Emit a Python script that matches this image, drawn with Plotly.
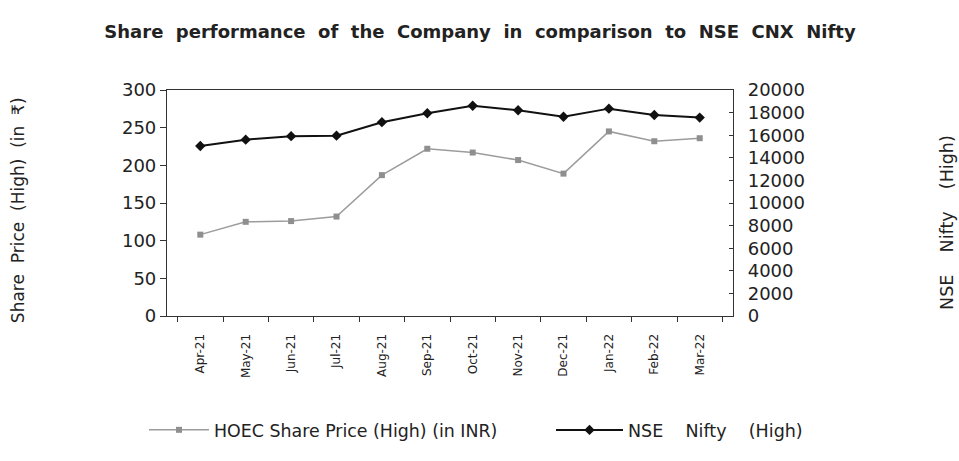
import plotly.graph_objects as go

months = ["Apr-21", "May-21", "Jun-21", "Jul-21", "Aug-21", "Sep-21",
          "Oct-21", "Nov-21", "Dec-21", "Jan-22", "Feb-22", "Mar-22"]
hoec_high = [108, 125, 126, 132, 187, 222, 217, 207, 189, 245, 232, 236]
nifty_high = [15044, 15606, 15915, 15962, 17153, 17948, 18604, 18210, 17639, 18350, 17794, 17559]

FONT = "DejaVu Sans"
TXT = "#222222"
AX = "#333333"
S = "\u00a0\u00a0"
S4 = "\u00a0\u00a0\u00a0\u00a0"

W, H = 959, 461

fig = go.Figure()
fig.add_trace(go.Scatter(
    x=months, y=hoec_high, name="HOEC Share Price (High) (in INR)",
    mode="lines+markers", legend="legend", showlegend=True,
    line=dict(color="#9c9c9c", width=1.5),
    marker=dict(symbol="square", size=6, color="#8f8f8f"),
))
fig.add_trace(go.Scatter(
    x=months, y=nifty_high, name=S4.join(["NSE", "Nifty", "(High)"]),
    mode="lines+markers", yaxis="y2", legend="legend2", showlegend=True,
    line=dict(color="#111111", width=2),
    marker=dict(symbol="diamond", size=8, color="#111111"),
))

fig.update_layout(
    width=W, height=H,
    showlegend=True,
    margin=dict(l=167, r=226, t=90, b=145),
    paper_bgcolor="white", plot_bgcolor="white",
    font=dict(family=FONT, color=TXT, size=17),
    title=dict(
        text="<b>" + S.join("Share performance of the Company in comparison to NSE CNX Nifty".split()) + "</b>",
        x=480 / W, xanchor="center", y=1 - 32 / H, yanchor="middle",
        font=dict(family=FONT, size=18, color=TXT),
    ),
    xaxis=dict(
        type="category", tickson="boundaries", ticks="outside", ticklen=5,
        tickcolor=AX, tickangle=-90, tickfont=dict(size=12),
        ticklabelstandoff=12, automargin=False,
        showline=True, linecolor=AX, linewidth=1.2, mirror=True,
        showgrid=False, zeroline=False,
    ),
    yaxis=dict(
        range=[0, 300], dtick=50, ticks="outside", ticklen=6, tickcolor=AX,
        showline=True, linecolor=AX, linewidth=1.2, automargin=False,
        showgrid=False, zeroline=False, tickfont=dict(size=18),
    ),
    yaxis2=dict(
        range=[0, 20000], dtick=2000, overlaying="y", side="right",
        tickformat="d", automargin=False,
        ticks="inside", ticklen=4, tickcolor=AX, ticklabelstandoff=10,
        showline=True, linecolor=AX, linewidth=1.2,
        showgrid=False, zeroline=False, tickfont=dict(size=18),
    ),
    legend=dict(
        orientation="h", xref="container", yref="container",
        x=144 / W, xanchor="left", y=1 - 430 / H, yanchor="middle",
        itemwidth=60, font=dict(size=17.4), bgcolor="rgba(0,0,0,0)",
    ),
    legend2=dict(
        orientation="h", xref="container", yref="container",
        x=551 / W, xanchor="left", y=1 - 430 / H, yanchor="middle",
        itemwidth=67, font=dict(size=17.5), bgcolor="rgba(0,0,0,0)",
    ),
    annotations=[
        dict(text=S.join(["Share", "Price", "(High)", "(in", "₹)"]),
             xref="paper", yref="paper", x=-0.263, y=0.469,
             xanchor="center", yanchor="middle", textangle=-90,
             showarrow=False, font=dict(size=17)),
        dict(text=S4.join(["NSE", "Nifty", "(High)"]),
             xref="paper", yref="paper", x=1.378, y=0.416,
             xanchor="center", yanchor="middle", textangle=-90,
             showarrow=False, font=dict(size=17.5)),
    ],
)

fig.write_html(
    "out.html",
    config={"displayModeBar": False},
    post_script="document.body.style.margin='0';document.body.style.overflow='hidden';",
)
